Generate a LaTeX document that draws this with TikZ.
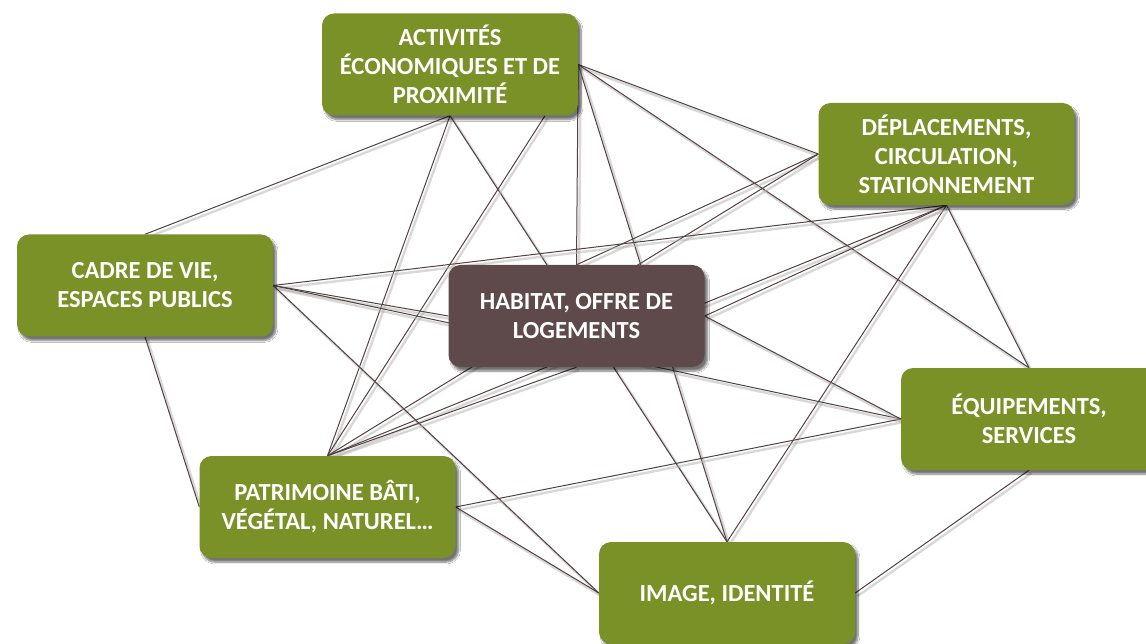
\documentclass[tikz,border=0pt]{standalone}
\usepackage{fontspec}
\setmainfont{Carlito}
\usetikzlibrary{shadows.blur}
\definecolor{boxgreen}{RGB}{122,145,40}
\definecolor{boxbrown}{RGB}{94,74,74}
\definecolor{linkcol}{RGB}{84,66,66}
\pgfdeclarelayer{bg}
\pgfsetlayers{bg,main}
\tikzset{
  topic/.style={rectangle, rounded corners=12pt, minimum width=256pt, minimum height=102pt,
    inner sep=0pt, fill=boxgreen, text=white, align=center,
    font=\bfseries\fontsize{24.5}{29}\selectfont,
    blur shadow={shadow xshift=3pt, shadow yshift=-4pt, shadow blur steps=8, shadow opacity=55}},
  centre/.style={topic, fill=boxbrown},
  linkline/.style={draw=linkcol, line width=1pt},
  linkshade/.style={draw=black!30, line width=2.4pt, opacity=0.5}
}
\newcommand\lnk[2]{%
  \draw[linkshade] ([shift={(2.5,3)}]#1) -- ([shift={(2.5,3)}]#2);
  \draw[linkline] (#1) -- (#2);}
\begin{document}
\begin{tikzpicture}[x=1pt,y=-1pt]
\useasboundingbox (0,0) rectangle (1146,644);
\clip (0,0) rectangle (1146,644);
\node[topic]  (A) at (450,64.5)  {ACTIVITÉS\\ÉCONOMIQUES ET DE\\PROXIMITÉ};
\node[topic]  (D) at (946.5,154) {DÉPLACEMENTS,\\CIRCULATION,\\STATIONNEMENT};
\node[topic]  (C) at (145,285.5) {CADRE DE VIE,\\ESPACES PUBLICS};
\node[centre] (H) at (576.5,316) {HABITAT, OFFRE DE\\LOGEMENTS};
\node[topic]  (E) at (1029,419)  {ÉQUIPEMENTS,\\SERVICES};
\node[topic]  (P) at (327.5,507) {PATRIMOINE BÂTI,\\VÉGÉTAL, NATUREL…};
\node[topic]  (I) at (727,593)   {IMAGE, IDENTITÉ};
\coordinate (Ab) at ([xshift=95]A.south);
\begin{pgfonlayer}{bg}
\fill[white] (0,0) rectangle (1146,644);
\lnk{A.south}{C.north}
\lnk{A.south}{P.north}
\lnk{A.south}{I.north}
\lnk{Ab}{P.north}
\lnk{A.east}{D.west}
\lnk{A.east}{E.north}
\lnk{A.east}{I.north}
\lnk{A.east}{H.north}
\lnk{D.west}{H.north}
\lnk{D.west}{P.north}
\lnk{D.south}{C.east}
\lnk{D.south}{P.north}
\lnk{D.south}{I.north}
\lnk{D.south}{E.north}
\lnk{D.south}{H.east}
\lnk{C.east}{H.west}
\lnk{C.east}{E.west}
\lnk{C.east}{I.west}
\lnk{C.south}{P.west}
\lnk{P.north}{H.south}
\lnk{P.east}{E.west}
\lnk{P.east}{I.west}
\lnk{H.east}{E.west}
\lnk{I.east}{E.south}
\end{pgfonlayer}
\end{tikzpicture}
\end{document}
